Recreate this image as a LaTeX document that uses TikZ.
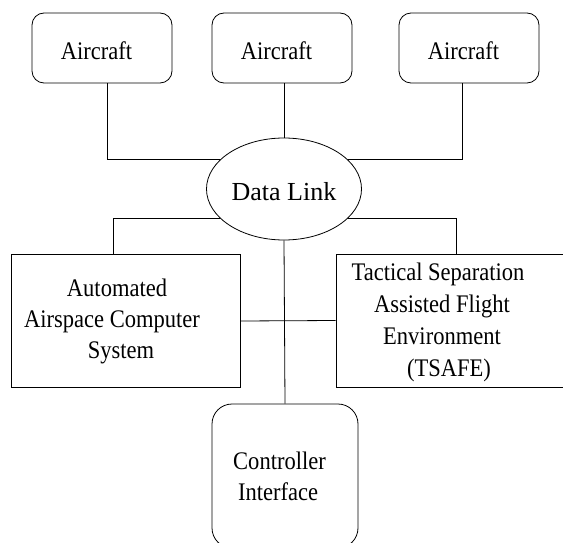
\documentclass[tikz,border=0pt]{standalone}
\usepackage{fontspec}
\setmainfont{Liberation Serif}[FakeStretch=0.89]
\newfontfamily\plainserif{Liberation Serif}
\usetikzlibrary{shapes.geometric}
\newcommand\pad[1]{\rule{#1}{0pt}}
\tikzset{
rbox/.style={rectangle,draw=black,rounded corners=12pt,minimum width=140pt,minimum height=70pt},
craft/.style={rbox,text height=30pt,text depth=6pt,execute at end node={\pad{11pt}}},
sbox/.style={rectangle,draw=black,minimum height=133pt},
link/.style={ellipse,draw=black,minimum width=155pt,minimum height=102pt,inner sep=0pt,text height=28pt,text depth=6pt,font=\fontsize{26}{31}\plainserif},
txt/.style={align=center,inner sep=0pt}
}
\begin{document}
\begin{tikzpicture}[x=1pt,y=-1pt,line width=0.8pt,font=\fontsize{25.3}{31}\selectfont]
\useasboundingbox (0,0) rectangle (563,543);
\clip (0,0) rectangle (563,543);
\node[craft] (A1) at (102,48) {Aircraft};
\node[craft] (A2) at (282,48) {Aircraft};
\node[craft] (A3) at (469,48) {Aircraft};
\node[link] (DL) at (284,189) {Data Link};
\node[sbox,minimum width=229pt,align=center] (AACS) at (125.5,321) {Automated\pad{17pt}\\Airspace Computer\pad{27pt}\\System\pad{9pt}};
\node[sbox,minimum width=240pt] (TS) at (456,320.5) {};
\node[txt,font=\fontsize{25.3}{32}\selectfont] (TStext) at (442,322) {Tactical Separation\pad{8pt}\\Assisted Flight\\Environment\\\pad{14pt}(TSAFE)};
\node[rbox,rounded corners=20pt,minimum width=146pt,minimum height=144pt,align=center] (CI) at (285,476) {Controller\pad{11pt}\\Interface\pad{14pt}};
\draw ([xshift=5pt]A1.south) |- (DL.155);
\draw (DL.north |- A2.south) -- (DL.north);
\draw ([xshift=-7pt]A3.south) |- (DL.25);
\draw (DL.205) -| ([xshift=-12.5pt]AACS.north);
\draw (DL.335) -| (TS.north);
\draw (DL.south) -- (CI.north);
\draw (AACS.east) -- (TS.west);
\end{tikzpicture}
\end{document}
